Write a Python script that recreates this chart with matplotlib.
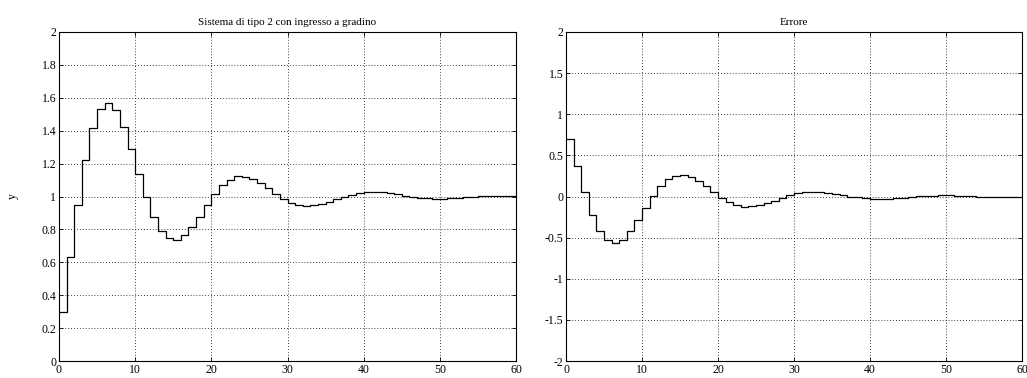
import numpy as np
import matplotlib
matplotlib.use("Agg")
import matplotlib.pyplot as plt

# step response (stairs), sampled every 1 time unit
t = list(range(0, 61))
y = [0.300, 0.631, 0.947, 1.219, 1.417, 1.533, 1.567, 1.523, 1.421, 1.286,
     1.138, 0.996, 0.874, 0.789, 0.747, 0.735, 0.763, 0.812, 0.878, 0.951,
     1.014, 1.067, 1.102, 1.122, 1.120, 1.106, 1.082, 1.051, 1.018, 0.986,
     0.963, 0.951, 0.945, 0.947, 0.955, 0.966, 0.984, 1.000, 1.012, 1.020,
     1.025, 1.028, 1.027, 1.021, 1.013, 1.005, 0.997, 0.992, 0.988, 0.987,
     0.987, 0.988, 0.991, 0.996, 1.000, 1.003, 1.005, 1.006, 1.006, 1.005,
     1.004]
err = [0.700, 0.369, 0.053, -0.219, -0.417, -0.533, -0.567, -0.523, -0.421, -0.286,
       -0.138, 0.004, 0.126, 0.211, 0.253, 0.265, 0.237, 0.188, 0.122, 0.049,
       -0.014, -0.067, -0.102, -0.122, -0.120, -0.106, -0.082, -0.051, -0.018, 0.014,
       0.037, 0.049, 0.055, 0.053, 0.045, 0.034, 0.016, 0.000, -0.012, -0.020,
       -0.025, -0.028, -0.027, -0.021, -0.013, -0.005, 0.003, 0.008, 0.012, 0.013,
       0.013, 0.012, 0.009, 0.004, 0.000, -0.003, -0.005, -0.006, -0.006, -0.005,
       -0.004]

titles = ["Sistema di tipo 2 con ingresso a gradino", "Errore"]
xticks = [0, 10, 20, 30, 40, 50, 60]
yticks_left = [0, 0.2, 0.4, 0.6, 0.8, 1, 1.2, 1.4, 1.6, 1.8, 2]
ylabels_left = ["0", "0.2", "0.4", "0.6", "0.8", "1", "1.2", "1.4", "1.6", "1.8", "2"]
yticks_right = [-2, -1.5, -1, -0.5, 0, 0.5, 1, 1.5, 2]
ylabels_right = ["-2", "-1.5", "-1", "-0.5", "0", "0.5", "1", "1.5", "2"]

plt.rcParams['font.family'] = ['Liberation Serif', 'DejaVu Serif']
plt.rcParams['font.size'] = 8.5

fig = plt.figure(figsize=(10.27, 3.78), dpi=100)
ax1 = fig.add_axes([59/1027, 17/378, 457/1027, 329/378])
ax2 = fig.add_axes([566/1027, 17/378, 456/1027, 329/378])


def style(ax, yt, yl, ylim, title):
    ax.set_xlim(0, 60)
    ax.set_ylim(*ylim)
    ax.set_xticks(xticks)
    ax.set_xticklabels([str(v) for v in xticks])
    ax.set_yticks(yt)
    ax.set_yticklabels(yl)
    ax.grid(True, color='black', linestyle=(0, (1, 2.5)), linewidth=0.6)
    ax.tick_params(direction='in', length=3, width=0.6, top=True, right=True,
                   labelsize=8.5, pad=2)
    for s in ax.spines.values():
        s.set_linewidth(0.8)
        s.set_color('black')
    ax.set_title(title, fontsize=8, pad=5)


ax1.plot(t, y, drawstyle='steps-post', color='black', linewidth=0.9)
style(ax1, yticks_left, ylabels_left, (0, 2), titles[0])
ax1.set_ylabel("y", fontsize=8.5, labelpad=16)

ax2.plot(t, err, drawstyle='steps-post', color='black', linewidth=0.9)
style(ax2, yticks_right, ylabels_right, (-2, 2), titles[1])

fig.savefig("out.png", dpi=100)
